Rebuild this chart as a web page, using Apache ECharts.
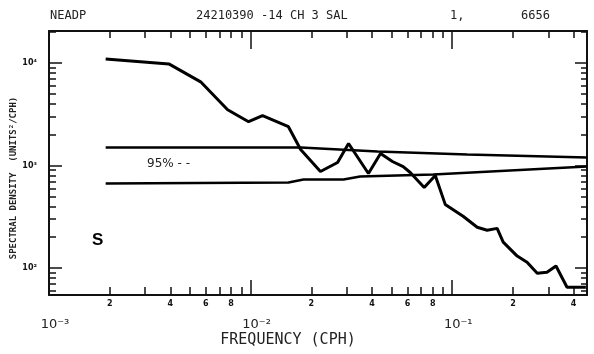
<!DOCTYPE html>
<html>
<head>
<meta charset="utf-8">
<script src="https://cdn.jsdelivr.net/npm/echarts@6/dist/echarts.min.js"></script>
<style>
  html, body { margin: 0; padding: 0; background: #fff; }
  #chart { width: 594px; height: 354px; }
</style>
</head>
<body>
<div id="chart"></div>
<script>
// spectrum (frequency in cph, spectral density)
var freq = [0.00191, 0.00393, 0.00565, 0.00769, 0.00977, 0.01146, 0.0154, 0.0177, 0.0222, 0.0270,
  0.0306, 0.0384, 0.0441, 0.0505, 0.0571, 0.0619, 0.0726, 0.0824, 0.0923, 0.1132,
  0.133, 0.149, 0.167, 0.179, 0.210, 0.235, 0.264, 0.295, 0.327, 0.371, 0.46];
var density = [10940, 9780, 6540, 3500, 2670, 3060, 2390, 1430, 875, 1070,
  1640, 836, 1310, 1094, 977, 855, 611, 800, 418, 320,
  250, 234, 244, 179, 131, 114, 89, 91, 105, 65, 65];

// 95% confidence band
var upperFreq = [0.00191, 0.0177, 0.0426, 0.1186, 0.466];
var upperLevel = [1496, 1496, 1368, 1279, 1196];
var lowerFreq = [0.00191, 0.0154, 0.0183, 0.0289, 0.0349, 0.0805, 0.466];
var lowerLevel = [668, 684, 731, 731, 782, 818, 977];

// axis ranges and ticks
var xMin = 0.001, xMax = 0.466;
var yMin = 54.7, yMax = 20460;
var decadesX = [-3, -2, -1];
var decadesY = [1, 2, 3, 4];
var mantissas = [2, 3, 4, 5, 6, 7, 8, 9];
var xTickLabels = [0.002, 0.004, 0.006, 0.008, 0.02, 0.04, 0.06, 0.08, 0.2, 0.4];

var headerTexts = ["NEADP", "24210390 -14 CH 3 SAL", "1,", "6656"];
var xName = "FREQUENCY (CPH)";
var yName = "SPECTRAL DENSITY  (UNITS²/CPH)";

var sup = { "-": "⁻", "0": "⁰", "1": "¹", "2": "²", "3": "³", "4": "⁴", "5": "⁵" };
function pow10Label(value) {
  var e = Math.log10(value);
  var r = Math.round(e);
  if (Math.abs(e - r) > 0.01) return "";
  return "10" + String(r).split("").map(function (c) { return sup[c]; }).join("");
}

function minorLogs(decades) {
  var out = [];
  decades.forEach(function (d) {
    mantissas.forEach(function (m) { out.push(Math.log10(m) + d); });
  });
  return out;
}

function zip(a, b) { return a.map(function (v, i) { return [v, b[i]]; }); }

var ink = "#111";
var lx0 = Math.log10(xMin), lx1 = Math.log10(xMax);
var ly0 = Math.log10(yMin), ly1 = Math.log10(yMax);

function tickAxis(pos, lo, hi, values, len, extra) {
  var a = {
    type: "value", position: pos, min: lo, max: hi,
    axisLine: { show: false },
    axisTick: { show: true, inside: true, length: len, customValues: values, lineStyle: { color: ink, width: 1.5 } },
    axisLabel: { show: false },
    splitLine: { show: false }
  };
  return Object.assign(a, extra || {});
}

var myChart = echarts.init(document.getElementById("chart"));

var option = {
  backgroundColor: "#fff",
  animation: false,
  grid: { left: 49, right: 7, top: 31, bottom: 59 },
  xAxis: [
    {
      type: "log", logBase: 10, min: xMin, max: xMax, position: "bottom",
      axisLine: { show: true, lineStyle: { color: ink, width: 2 } },
      axisTick: { show: true, inside: true, length: 15, lineStyle: { color: ink, width: 1.5 } },
      axisLabel: { margin: 23, fontSize: 13, color: "#222", fontFamily: "DejaVu Sans", padding: [0, 0, 0, 12], formatter: pow10Label },
      splitLine: { show: false }
    },
    tickAxis("bottom", lx0, lx1, minorLogs(decadesX), 8, {
      axisLabel: {
        show: true, margin: 5, fontSize: 8, fontWeight: "bold", color: ink, fontFamily: "DejaVu Sans",
        customValues: xTickLabels.map(function (v) { return Math.log10(v); }),
        formatter: function (v) { return String(Math.round(Math.pow(10, v - Math.floor(v + 1e-9)))); }
      }
    }),
    tickAxis("top", lx0, lx1, minorLogs(decadesX), 7, {
      axisLine: { show: true, lineStyle: { color: ink, width: 2 } }
    }),
    tickAxis("top", lx0, lx1, decadesX, 18)
  ],
  yAxis: [
    {
      type: "log", logBase: 10, min: yMin, max: yMax, position: "left",
      axisLine: { show: true, lineStyle: { color: ink, width: 2 } },
      axisTick: { show: true, inside: true, length: 13, lineStyle: { color: ink, width: 1.5 } },
      axisLabel: { margin: 12, fontSize: 8, fontWeight: "bold", color: ink, fontFamily: "DejaVu Sans", formatter: pow10Label },
      splitLine: { show: false }
    },
    tickAxis("left", ly0, ly1, minorLogs(decadesY), 7),
    tickAxis("right", ly0, ly1, minorLogs(decadesY), 6, {
      axisLine: { show: true, lineStyle: { color: ink, width: 2 } }
    }),
    tickAxis("right", ly0, ly1, decadesY, 12)
  ],
  series: [
    {
      type: "line", xAxisIndex: 0, yAxisIndex: 0, symbol: "none", z: 4,
      data: zip(freq, density),
      lineStyle: { color: "#000", width: 3 }
    },
    {
      type: "line", xAxisIndex: 0, yAxisIndex: 0, symbol: "none", z: 3,
      data: zip(upperFreq, upperLevel),
      lineStyle: { color: "#000", width: 2.5 }
    },
    {
      type: "line", xAxisIndex: 0, yAxisIndex: 0, symbol: "none", z: 3,
      data: zip(lowerFreq, lowerLevel),
      lineStyle: { color: "#000", width: 2.5 }
    }
  ],
  graphic: [
    { type: "text", left: 50, top: 10, style: { text: headerTexts[0], fontSize: 12, fontFamily: "DejaVu Sans Mono", fill: "#222" } },
    { type: "text", left: 196, top: 10, style: { text: headerTexts[1], fontSize: 12, fontFamily: "DejaVu Sans Mono", fill: "#222" } },
    { type: "text", left: 450, top: 10, style: { text: headerTexts[2], fontSize: 12, fontFamily: "DejaVu Sans Mono", fill: "#222" } },
    { type: "text", left: 521, top: 10, style: { text: headerTexts[3], fontSize: 12, fontFamily: "DejaVu Sans Mono", fill: "#222" } },
    { type: "text", left: 147, top: 158, style: { text: "95% - -", fontSize: 12, fontFamily: "DejaVu Sans", fill: "#222" } },
    { type: "text", left: 92, top: 232, style: { text: "S", fontSize: 17, fontWeight: "bold", fontFamily: "Liberation Sans", fill: "#000" } },
    { type: "text", x: 288, y: 340, style: { text: xName, fontSize: 15, fontFamily: "DejaVu Sans Mono", fill: "#222", align: "center", verticalAlign: "middle" } },
    { type: "text", x: 14, y: 178, rotation: Math.PI / 2, style: { text: yName, fontSize: 9, fontWeight: "bold", fontFamily: "DejaVu Sans Mono", fill: "#222", align: "center", verticalAlign: "middle" } }
  ]
};

myChart.setOption(option);
</script>
</body>
</html>
